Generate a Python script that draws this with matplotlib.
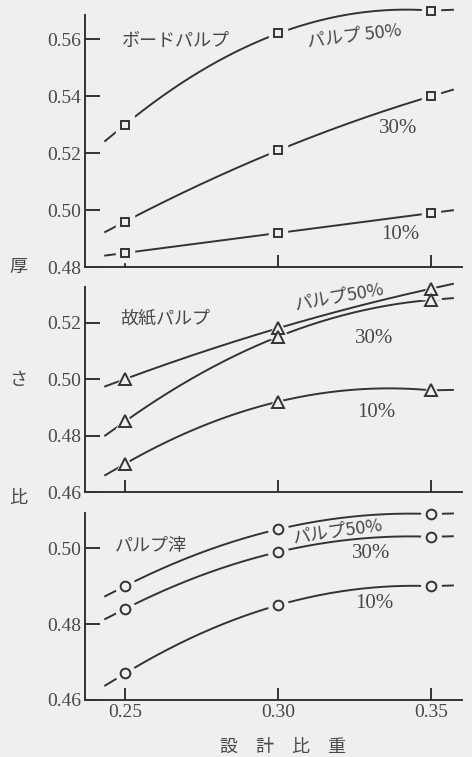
import numpy as np
import matplotlib
matplotlib.use("Agg")
import matplotlib.pyplot as plt

# ---- data ----
x_vals = [0.25, 0.30, 0.35]
x_ticks = [0.25, 0.30, 0.35]
x_ticklabels = ["0.25", "0.30", "0.35"]

board_50 = [0.530, 0.562, 0.570]
board_30 = [0.496, 0.521, 0.540]
board_10 = [0.485, 0.492, 0.499]

waste_50 = [0.500, 0.518, 0.532]
waste_30 = [0.485, 0.515, 0.528]
waste_10 = [0.470, 0.492, 0.496]

residue_50 = [0.490, 0.505, 0.509]
residue_30 = [0.484, 0.499, 0.503]
residue_10 = [0.467, 0.485, 0.490]

top_yticks = [0.48, 0.50, 0.52, 0.54, 0.56]
mid_yticks = [0.46, 0.48, 0.50, 0.52]
bot_yticks = [0.46, 0.48, 0.50]

BG = "#efefef"
LC = "#333333"
TC = "#484848"
JP = ["Noto Sans CJK JP", "DejaVu Sans"]
SERIF = ["Liberation Serif", "DejaVu Serif"]

plt.rcParams['font.family'] = SERIF

fig = plt.figure(figsize=(4.72, 7.57), dpi=100, facecolor=BG)

def make_ax(rect, ylim, yticks, show_xlabels):
    ax = fig.add_axes(rect)
    ax.set_facecolor(BG)
    ax.set_xlim(0.2369, 0.360)
    ax.set_ylim(*ylim)
    for s in ["top", "right"]:
        ax.spines[s].set_visible(False)
    for s in ["left", "bottom"]:
        ax.spines[s].set_color(LC)
        ax.spines[s].set_linewidth(1.4)
    ax.set_yticks(yticks)
    ax.set_yticklabels([f"{v:.2f}" for v in yticks], fontsize=14, color=TC, family=SERIF)
    ax.set_xticks(x_ticks)
    if show_xlabels:
        ax.set_xticklabels(x_ticklabels, fontsize=14, color=TC, family=SERIF)
    else:
        ax.set_xticklabels([])
    ax.tick_params(axis="y", direction="in", length=11, width=1.4, color=LC, pad=3)
    ax.tick_params(axis="x", direction="in", length=9, width=1.4, color=LC, pad=3)
    return ax

def draw_series(ax, ys, marker, ms, x0=0.2435, x1=0.357):
    coef = np.polyfit(x_vals, ys, 2)
    dcoef = np.polyder(coef)
    xs = np.linspace(x_vals[0], x_vals[-1], 200)
    yq = np.polyval(coef, xs)
    # short straight lead-in / lead-out segments
    s0 = np.polyval(dcoef, x_vals[0])
    s1 = max(np.polyval(dcoef, x_vals[-1]), 0.25 * (ys[2] - ys[1]) / (x_vals[2] - x_vals[1]))
    # keep the inner curve from overshooting the last point
    if np.polyval(dcoef, x_vals[-1]) < 0:
        # blend to a monotone curve: cap values at the end value
        yq = np.minimum(yq, ys[2] + s1 * 0.0 + (xs - x_vals[-1]) * 0 + 0.0015)
    ax.plot(xs, yq, color=LC, lw=1.4, zorder=2, clip_on=False)
    ax.plot([x0, x_vals[0]], [ys[0] - s0 * (x_vals[0] - x0), ys[0]],
            color=LC, lw=1.4, zorder=2, clip_on=False)
    ax.plot([x_vals[-1], x1], [ys[2], ys[2] + s1 * (x1 - x_vals[-1])],
            color=LC, lw=1.4, zorder=2, clip_on=False)
    ax.plot(x_vals, ys, linestyle="none", marker=marker, ms=ms + 7,
            mfc=BG, mec=BG, zorder=3, clip_on=False)
    ax.plot(x_vals, ys, linestyle="none", marker=marker, ms=ms,
            mfc=BG, mec=LC, mew=1.4, zorder=4, clip_on=False)

# top panel
ax1 = make_ax([0.180, 0.647, 0.799, 0.333], (0.48, 0.5684), top_yticks, False)
for ys in (board_50, board_30, board_10):
    draw_series(ax1, ys, "s", 5.5)
ax1.text(0.2488, 0.5595, "ボードパルプ", family=JP, fontsize=13, color=TC, va="center")
ax1.text(0.3090, 0.5612, "パルプ 50%", family=JP, fontsize=13, color=TC, va="center", rotation=7)
ax1.text(0.3330, 0.5285, "30%", family=SERIF, fontsize=15, color=TC, va="center")
ax1.text(0.3335, 0.4915, "10%", family=SERIF, fontsize=15, color=TC, va="center")

# middle panel
ax2 = make_ax([0.180, 0.350, 0.799, 0.271], (0.46, 0.5326), mid_yticks, False)
for ys in (waste_50, waste_30, waste_10):
    draw_series(ax2, ys, "^", 8)
ax2.text(0.2485, 0.5215, "故紙パルプ", family=JP, fontsize=13, color=TC, va="center")
ax2.text(0.3050, 0.5290, "パルプ50%", family=JP, fontsize=13, color=TC, va="center", rotation=10)
ax2.text(0.3250, 0.5145, "30%", family=SERIF, fontsize=15, color=TC, va="center")
ax2.text(0.3257, 0.4880, "10%", family=SERIF, fontsize=15, color=TC, va="center")

# bottom panel
ax3 = make_ax([0.180, 0.0753, 0.799, 0.2467], (0.46, 0.5092), bot_yticks, True)
for ys in (residue_50, residue_30, residue_10):
    draw_series(ax3, ys, "o", 7)
ax3.text(0.2465, 0.5005, "パルプ滓", family=JP, fontsize=13, color=TC, va="center")
ax3.text(0.3045, 0.5045, "パルプ50%", family=JP, fontsize=13, color=TC, va="center", rotation=8)
ax3.text(0.3240, 0.4985, "30%", family=SERIF, fontsize=15, color=TC, va="center")
ax3.text(0.3250, 0.4855, "10%", family=SERIF, fontsize=15, color=TC, va="center")

# y label characters
fig.text(0.038, 1 - 267 / 757, "厚", family=JP, fontsize=13, color=TC, ha="center", va="center")
fig.text(0.038, 1 - 380 / 757, "さ", family=JP, fontsize=13, color=TC, ha="center", va="center")
fig.text(0.038, 1 - 498 / 757, "比", family=JP, fontsize=13, color=TC, ha="center", va="center")

# x label
fig.text(283 / 472, 1 - 747 / 757, "設　計　比　重", family=JP, fontsize=13, color=TC,
         ha="center", va="center")

fig.savefig("out.png", dpi=100, facecolor=BG)
